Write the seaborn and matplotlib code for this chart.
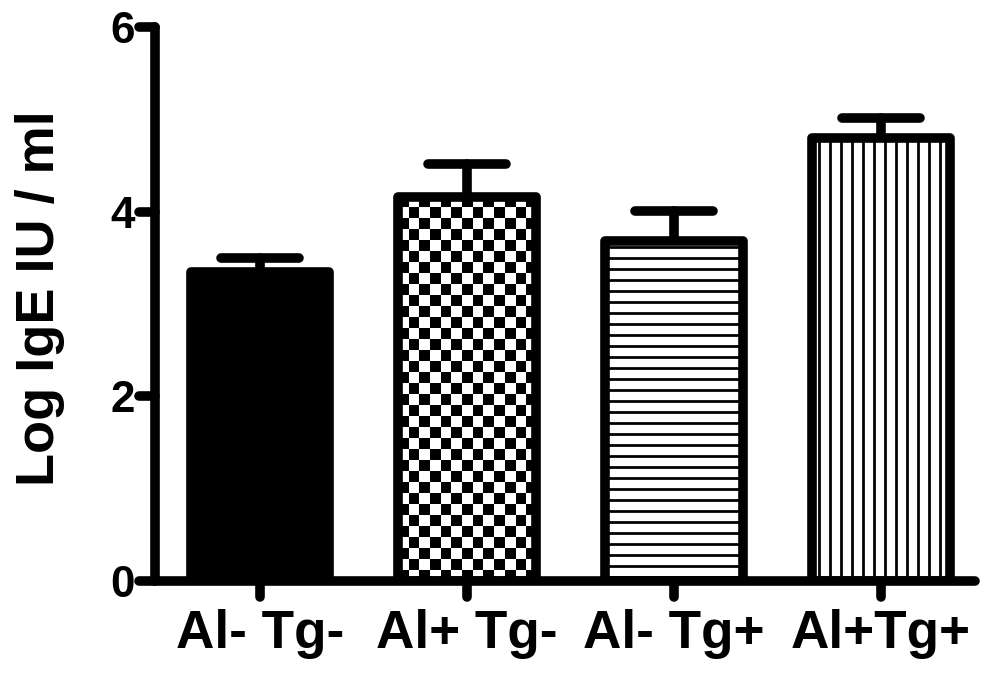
import numpy as np
import pandas as pd
import matplotlib
matplotlib.use("Agg")
import matplotlib.pyplot as plt
import seaborn as sns
from matplotlib.markers import MarkerStyle, TICKLEFT, TICKDOWN

# values (log IgE, mean and upward SEM)
groups = ["Al- Tg-", "Al+ Tg-", "Al- Tg+", "Al+Tg+"]
log_ige = [3.34, 4.16, 3.68, 4.80]
sem = [0.16, 0.36, 0.33, 0.21]
fills = ["black", "white", "white", "white"]
patterns = ["", "checker", "-", "|"]

DPI = 66
LW = 10.5

sns.set_style("ticks")
plt.rcParams["font.family"] = ["Liberation Sans", "DejaVu Sans"]
plt.rcParams["font.weight"] = "bold"
plt.rcParams["hatch.linewidth"] = 3.0
plt.rcParams["hatch.color"] = "black"
for key in ("text.color", "axes.labelcolor", "xtick.color", "ytick.color",
            "axes.edgecolor"):
    plt.rcParams[key] = "black"

df = pd.DataFrame({"group": groups, "value": log_ige})

fig = plt.figure(figsize=(982 / DPI, 673 / DPI), dpi=DPI)
ax = fig.add_axes([0.158, 0.137, 0.835, 0.823])

sns.barplot(
    data=df, x="group", y="value", hue="group", palette=fills,
    width=0.67, errorbar=None, legend=False, ax=ax, saturation=1,
    edgecolor="black", linewidth=LW, zorder=3,
)

ax.set_xlim(-0.507, 3.455)
ax.set_ylim(0, 6)

bars = ax.patches
for bar, pat in zip(bars, patterns):
    bar.set_joinstyle("round")
    if pat and pat != "checker":
        bar.set_hatch(pat)

# checkerboard fill for the second bar (no such hatch in matplotlib)
cb = bars[patterns.index("checker")]
x0, y0 = cb.get_x(), cb.get_y()
x1, y1 = x0 + cb.get_width(), y0 + cb.get_height()
(px0, py0), (px1, py1) = ax.transData.transform([(x0, y0), (x1, y1)])
nx = max(1, int(round((px1 - px0) / 11.0)))
ny = max(1, int(round((py1 - py0) / 11.0)))
board = np.indices((ny, nx)).sum(axis=0) % 2
img = ax.imshow(board, cmap="gray", extent=(x0, x1, y0, y1),
                interpolation="nearest", aspect="auto", zorder=3.5)
img.set_clip_path(cb)
cb.set_facecolor("none")
cb.set_zorder(4)
ax.set_xlim(-0.507, 3.455)
ax.set_ylim(0, 6)

# upward-only error bars
centers = [b.get_x() + b.get_width() / 2 for b in bars]
tops = [v + e for v, e in zip(log_ige, sem)]
ax.vlines(centers, log_ige, tops, color="black", lw=LW,
          capstyle="round", zorder=2)
ax.hlines(tops, [c - 0.19 for c in centers], [c + 0.19 for c in centers],
          color="black", lw=LW, capstyle="round", zorder=2)

ax.set_yticks([0, 2, 4, 6])
ax.set_ylabel("Log IgE IU / ml", fontsize=59, fontweight="bold", labelpad=50)
ax.yaxis.label.set_y(0.51)
ax.set_xlabel("")
ax.tick_params(axis="y", labelsize=48, width=LW, length=17, pad=5)
ax.tick_params(axis="x", labelsize=58, width=LW, length=17, pad=14)
for lab in ax.get_xticklabels() + ax.get_yticklabels():
    lab.set_fontweight("bold")

for t in ax.yaxis.get_major_ticks():
    t.tick1line.set_marker(MarkerStyle(TICKLEFT, capstyle="round"))
for t in ax.xaxis.get_major_ticks():
    t.tick1line.set_marker(MarkerStyle(TICKDOWN, capstyle="round"))

sns.despine(ax=ax)
for side in ("left", "bottom"):
    ax.spines[side].set_linewidth(LW)
    ax.spines[side].set_capstyle("round")
    ax.spines[side].set_zorder(5)

fig.savefig("out.png", dpi=DPI, facecolor="white")
plt.close(fig)
